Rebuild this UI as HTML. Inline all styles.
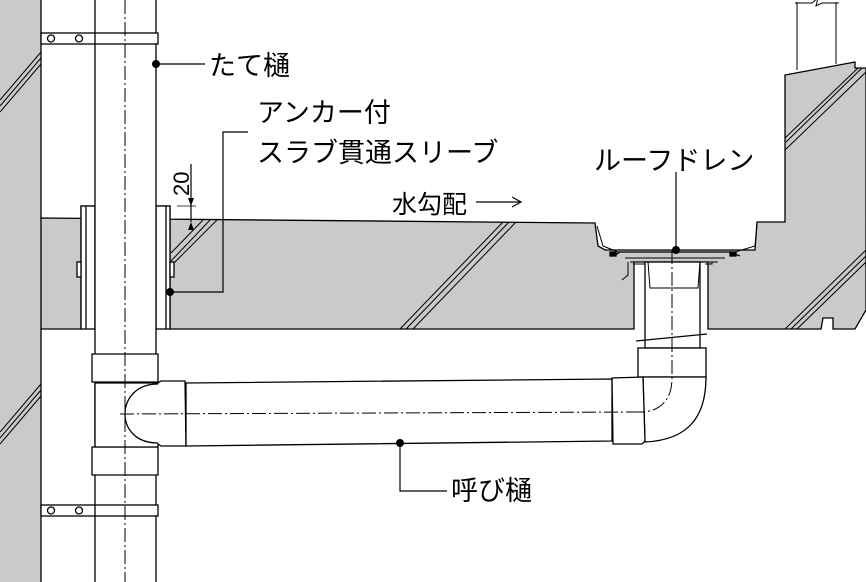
<!DOCTYPE html>
<html><head><meta charset="utf-8"><style>
html,body{margin:0;padding:0;background:#fff}
svg{display:block}
text{font-family:"Liberation Sans","Noto Sans CJK JP",sans-serif;fill:#000}
</style></head><body>
<svg width="866" height="582" viewBox="0 0 866 582" xmlns="http://www.w3.org/2000/svg">
<g stroke="#000" stroke-width="1.3" fill="none">
<rect x="0" y="0" width="41" height="582" fill="#c9caca" stroke="none"/>
<line x1="41" y1="0" x2="41" y2="218"/>
<line x1="41" y1="329" x2="41" y2="582"/>
<path d="M41 218 L595 223 L598 246 L605 250 L755 250 L757 222 L785 222 L785 75 L855 62 L855 68 L866 68 L866 310 L855 329 L833 329 L833 318 L823 318 L821 329 L708 329 L708 262 L634 262 L634 329 L170 329 L170 206 L81 206 L81 329 L41 329 Z" fill="#c9caca"/>
<g stroke-width="1">
<line x1="0" y1="100" x2="41" y2="52"/><line x1="0" y1="106" x2="41" y2="58"/><line x1="0" y1="112" x2="41" y2="64"/>
<line x1="0" y1="432" x2="41" y2="384"/><line x1="0" y1="438" x2="41" y2="390"/><line x1="0" y1="444" x2="41" y2="396"/>
<line x1="171" y1="253" x2="204" y2="219"/><line x1="171" y1="261" x2="211" y2="219"/><line x1="171" y1="266" x2="218" y2="219"/>
<line x1="400" y1="329" x2="503" y2="222"/><line x1="406" y1="329" x2="509" y2="222"/><line x1="413" y1="329" x2="516" y2="222"/>
<line x1="785" y1="138" x2="858" y2="68"/><line x1="785" y1="143" x2="862" y2="68"/><line x1="785" y1="150" x2="866" y2="72"/>
<line x1="785" y1="329" x2="866" y2="250"/><line x1="791" y1="329" x2="866" y2="256"/><line x1="797" y1="329" x2="866" y2="262"/>
</g>
<path d="M797 70 V2 M836 64 V2 M795 3 H812 L818 -2 L816 6 L822 3 H839" stroke-width="1"/>
<rect x="81" y="206" width="14" height="123" fill="#fff"/>
<rect x="156" y="206" width="14" height="123" fill="#fff"/>
<line x1="86" y1="206" x2="86" y2="329"/><line x1="166" y1="206" x2="166" y2="329"/>
<rect x="77" y="262" width="4" height="15" fill="#fff"/><rect x="170" y="262" width="4" height="15" fill="#fff"/>
<rect x="95" y="0" width="61" height="582" fill="#fff" stroke="none"/>
<line x1="95" y1="0" x2="95" y2="582"/><line x1="156" y1="0" x2="156" y2="582"/>
<rect x="41" y="33" width="117" height="11" fill="#fff"/><line x1="95" y1="33" x2="95" y2="44"/>
<circle cx="51" cy="38.5" r="3.5" fill="#fff"/><circle cx="79" cy="38.5" r="3.5" fill="#fff"/>
<rect x="41" y="505" width="117" height="11" fill="#fff"/><line x1="95" y1="505" x2="95" y2="516"/>
<circle cx="51" cy="510.5" r="3.5" fill="#fff"/><circle cx="79" cy="510.5" r="3.5" fill="#fff"/>
<path d="M92 354 H158 V382 H92 Z" fill="#fff"/>
<path d="M92 447 H158 V475 H92 Z" fill="#fff"/>
<path d="M95 383 H158 L161 381 H185 L186 446 H161 L158 444 V447 H95 Z" fill="#fff"/>
<path d="M158 384 C135 384 125 400 125 414 C125 428 135 443 158 443"/>
<path d="M186 383 L612 379 L612 441 L186 446 Z" fill="#fff"/>
<rect x="645" y="262" width="55" height="86" fill="#fff"/>
<line x1="636" y1="341" x2="707" y2="334"/>
<rect x="638" y="348" width="68" height="29" fill="#fff"/>
<path d="M643 377 L706 377 C706 415 690 440 645 442 Z" fill="#fff"/>
<path d="M612 378 L643 377 L645 441 L642 444 L613 444 Z" fill="#fff"/>
<path d="M597 226 L603 246 L618 252 L735 252 L755 246 L757 225" stroke-width="1"/>
<path d="M614 256 L620 252 H730 L740 256" stroke-width="1.2"/>
<path d="M625 258 H725 M630 262 H718" stroke-width="1"/>
<path d="M628 262 V275 L622 280 M633 264 H645 V285 M705 264 H712 V262" stroke-width="1"/>
<rect x="610" y="252" width="6" height="4" fill="#000"/><rect x="730" y="252" width="6" height="4" fill="#000"/>
<path d="M648 262 L650 288 H698 L700 262" stroke-width="1"/>
</g>
<g stroke="#000" stroke-width="1" stroke-dasharray="14 3 2 3" fill="none">
<line x1="125" y1="0" x2="125" y2="582"/>
<line x1="120" y1="414" x2="640" y2="412"/>
<path d="M672 250 V378 C672 400 660 412 640 412"/>
</g>
<g stroke="#000" stroke-width="1.2" fill="none">
<line x1="156" y1="64" x2="205" y2="64"/>
<path d="M248 132 H223 V292 H170"/>
<path d="M676 172 V250"/>
<path d="M400 443 V491 H447"/>
<line x1="191" y1="164" x2="191" y2="222"/>
<line x1="177" y1="206" x2="196" y2="206" stroke-width="0.8"/>
<path d="M476 202 H520 M512 197 L521 202 L512 207"/>
</g>
<g fill="#000">
<circle cx="156" cy="64" r="4"/><circle cx="170" cy="292" r="4"/><circle cx="676" cy="250" r="4"/><circle cx="400" cy="443" r="4"/>
<path d="M188 198 L194 198 L191 206 Z"/><path d="M188 230 L194 230 L191 222 Z"/>
</g>
<text x="209" y="75" font-size="27">たて樋</text>
<text x="257" y="122" font-size="27">アンカー付</text>
<text x="257" y="162" font-size="27">スラブ貫通スリーブ</text>
<text x="392" y="213" font-size="25">水勾配</text>
<text x="594" y="170" font-size="27">ルーフドレン</text>
<text x="451" y="500" font-size="27">呼び樋</text>
<text font-size="22" transform="translate(189,196) rotate(-90)">20</text>
</svg>
</body></html>
